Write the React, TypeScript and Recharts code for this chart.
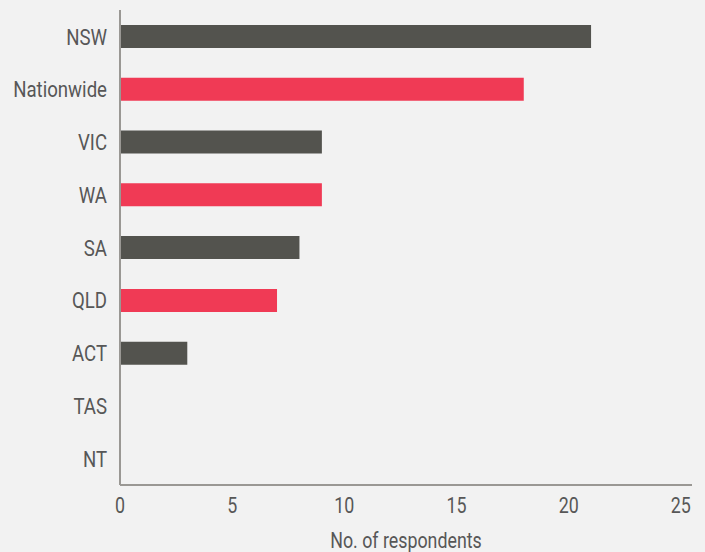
import React from "react";
import { BarChart, Bar, XAxis, YAxis, Cell, Label } from "recharts";

const regions = ["NSW", "Nationwide", "VIC", "WA", "SA", "QLD", "ACT", "TAS", "NT"];
const respondents = [21, 18, 9, 9, 8, 7, 3, 0, 0];
const barColors = ["#53534e", "#f03a55", "#53534e", "#f03a55", "#53534e", "#f03a55", "#53534e", "#53534e", "#53534e"];
const xTicks = [0, 5, 10, 15, 20, 25];

const data = regions.map((region, i) => ({ region, value: respondents[i] }));

const FONT = "Roboto, sans-serif";
const AXIS = "#9a9894";
const TEXT = "#575757";
const SQUEEZE = 0.81; // condensed look

function YTick({ x, y, payload }: any) {
  return (
    <text
      transform={`translate(${x},${y}) scale(${SQUEEZE},1)`}
      textAnchor="end"
      dy="0.355em"
      fill={TEXT}
      fontSize={23}
      fontFamily={FONT}
    >
      {payload.value}
    </text>
  );
}

function XTick({ x, y, payload }: any) {
  return (
    <text
      transform={`translate(${x},${y}) scale(${SQUEEZE},1)`}
      textAnchor="middle"
      dy="0.71em"
      fill={TEXT}
      fontSize={22}
      fontFamily={FONT}
    >
      {payload.value}
    </text>
  );
}

function AxisTitle({ viewBox }: any) {
  const cx = viewBox.x + viewBox.width / 2;
  const by = viewBox.y + viewBox.height - 4;
  return (
    <text
      transform={`translate(${cx},${by}) scale(${SQUEEZE},1)`}
      textAnchor="middle"
      fill={TEXT}
      fontSize={22}
      fontFamily={FONT}
    >
      No. of respondents
    </text>
  );
}

export default function App() {
  return (
    <div
      style={{
        position: "fixed",
        left: 0,
        top: 0,
        width: 705,
        height: 552,
        background: "#f2f2f2",
        overflow: "hidden",
      }}
    >
      <BarChart
        width={705}
        height={552}
        data={data}
        layout="vertical"
        margin={{ top: 10, right: 13, left: 0, bottom: 0 }}
        barSize={23}
      >
        <XAxis
          type="number"
          domain={[0, 25.5]}
          ticks={xTicks}
          allowDataOverflow
          height={67}
          tickLine={false}
          tickSize={6}
          tickMargin={6}
          axisLine={{ stroke: AXIS, strokeWidth: 2 }}
          tick={<XTick />}
        >
          <Label content={<AxisTitle />} />
        </XAxis>
        <YAxis
          type="category"
          dataKey="region"
          width={120}
          tickLine={false}
          tickSize={6}
          tickMargin={7}
          axisLine={{ stroke: AXIS, strokeWidth: 2 }}
          tick={<YTick />}
          interval={0}
        />
        <Bar dataKey="value" isAnimationActive={false}>
          {data.map((d, i) => (
            <Cell key={d.region} fill={barColors[i]} />
          ))}
        </Bar>
      </BarChart>
    </div>
  );
}
